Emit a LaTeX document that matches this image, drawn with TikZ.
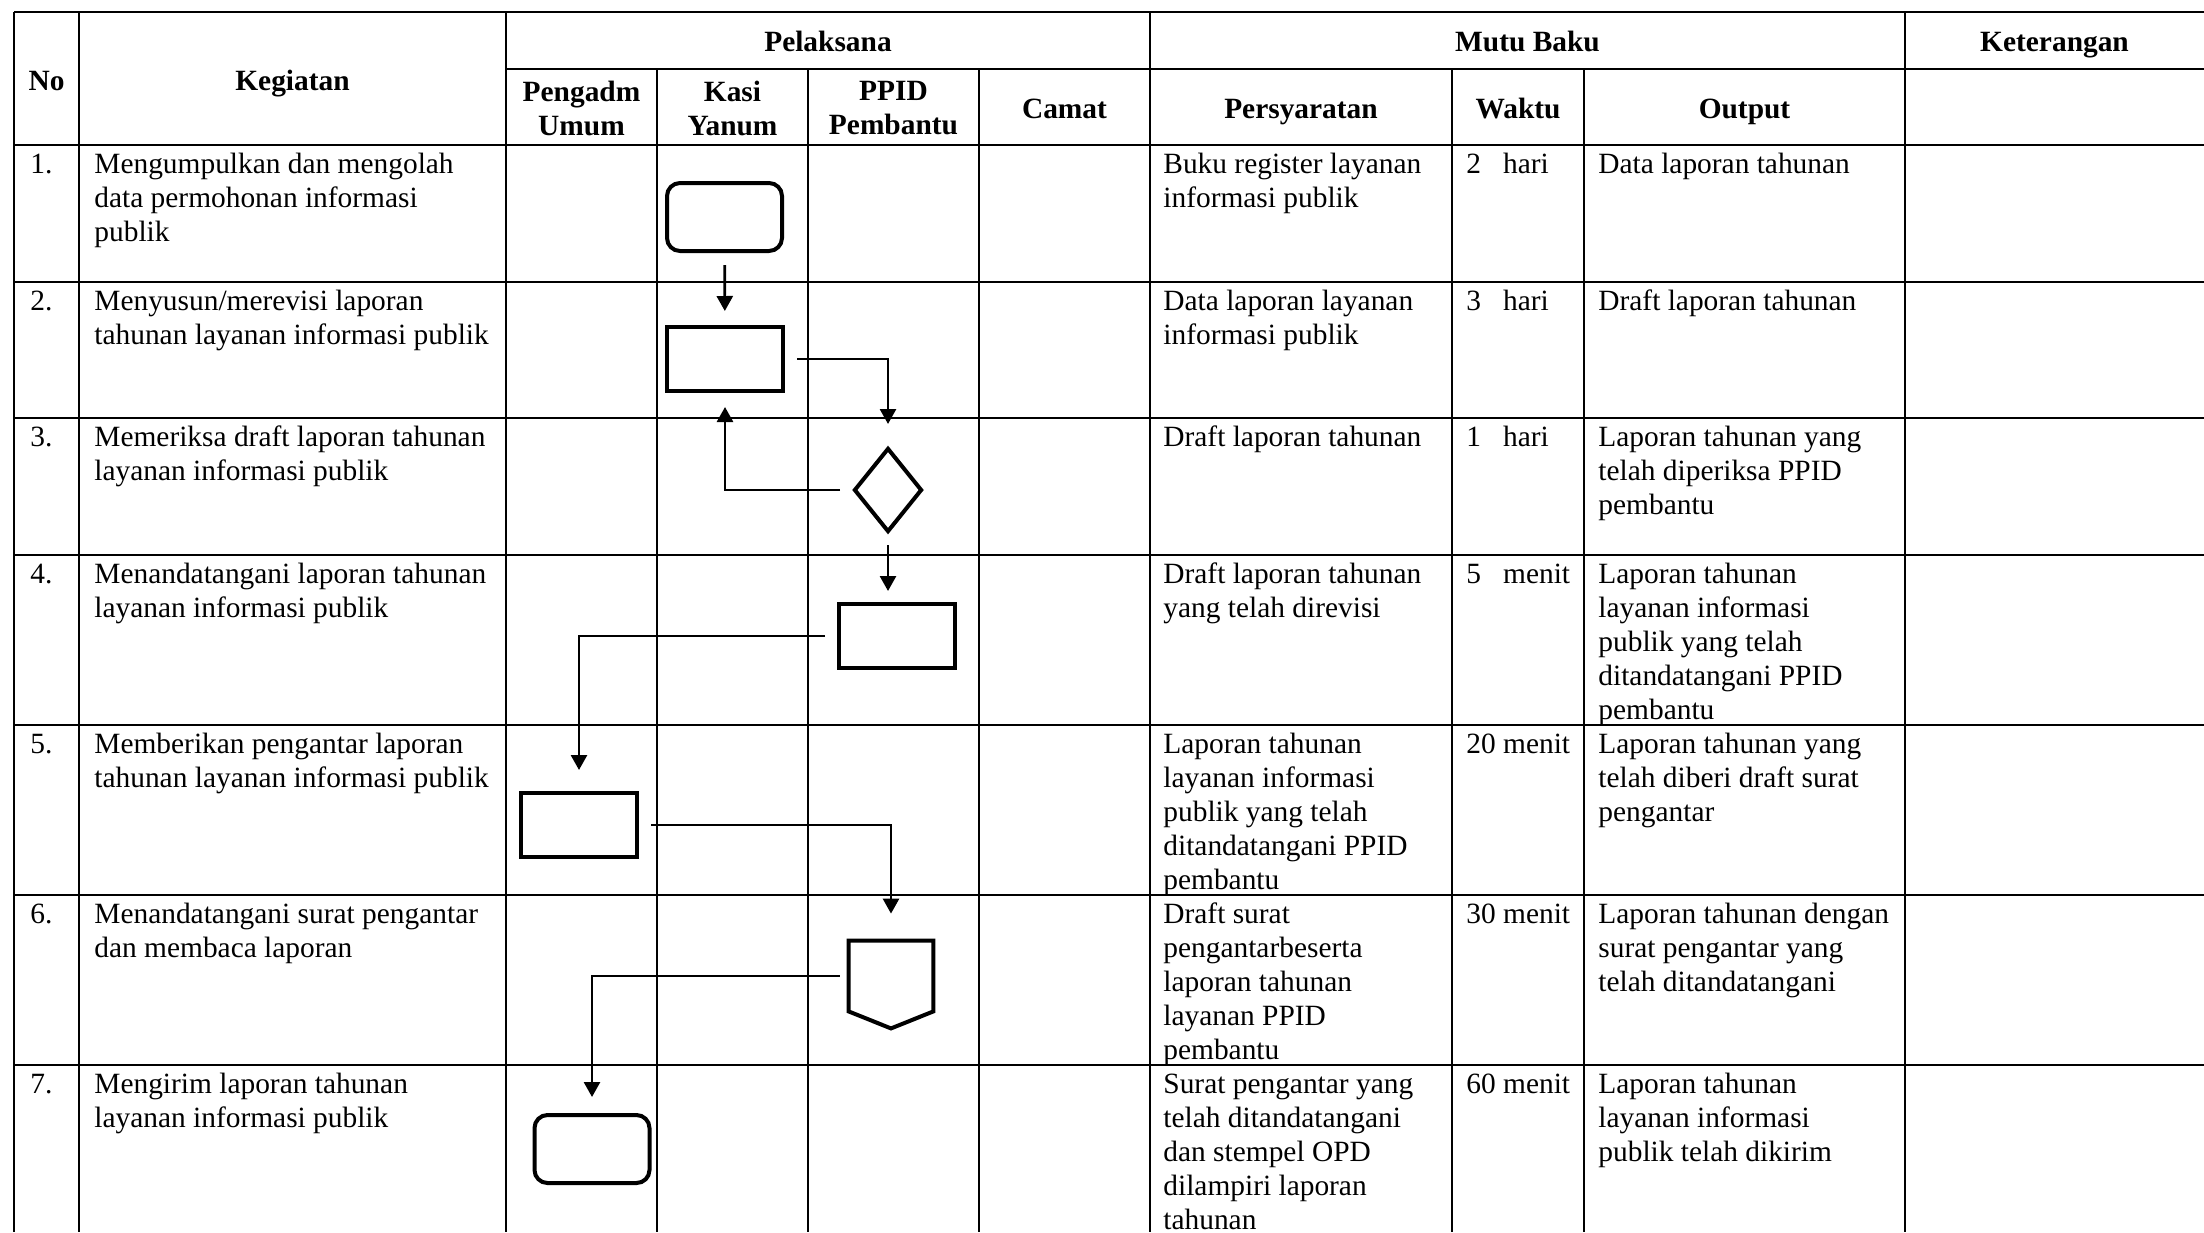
\documentclass[tikz,border=0pt]{standalone}
\usepackage{fontspec}
\setmainfont{Liberation Serif}
\usetikzlibrary{arrows.meta,shapes.geometric,calc}

\begin{document}
\begin{tikzpicture}[x=0.5pt, y=-0.5pt,
	Panah/.style={arrows = -{Triangle[length=7.5pt, width=8pt]}, line width=1.35pt, shorten <=6pt, shorten >=7pt},
	Garis/.style={line width=1pt},
	Proses/.style={draw, line width=2pt, minimum width=58pt, minimum height=32pt, inner sep=0pt},
	Mulai/.style={Proses, rounded corners=6.5pt, minimum width=57.5pt, minimum height=34pt},
	Isi/.style={anchor=base west, text width=280pt, align=flush left, inner sep=0pt, font=\fontsize{14.7}{17}\selectfont},
	Judul/.style={align=center, inner sep=0pt, font=\fontsize{14.7}{17}\selectfont\bfseries},
	Judul1/.style={Judul, anchor=base}]
				\useasboundingbox (0,0) rectangle (2204,1232);
				% garis tabel
				\draw[Garis, line width=1.3pt] (14,12) -- (2204,12);
				\draw[Garis] (506,69) -- (2204,69);
				\draw[Garis] (14,145) -- (2204,145);
				\draw[Garis] (14,282) -- (2204,282);
				\draw[Garis] (14,418) -- (2204,418);
				\draw[Garis] (14,555) -- (2204,555);
				\draw[Garis] (14,725) -- (2204,725);
				\draw[Garis] (14,895) -- (2204,895);
				\draw[Garis] (14,1065) -- (2204,1065);
				\draw[Garis] (14,12) -- (14,1232);
				\draw[Garis] (79,12) -- (79,1232);
				\draw[Garis] (506,12) -- (506,1232);
				\draw[Garis] (1150,12) -- (1150,1232);
				\draw[Garis] (1905,12) -- (1905,1232);
				\draw[Garis] (657,69) -- (657,1232);
				\draw[Garis] (808,69) -- (808,1232);
				\draw[Garis] (979,69) -- (979,1232);
				\draw[Garis] (1452,69) -- (1452,1232);
				\draw[Garis] (1584,69) -- (1584,1232);
				% kepala tabel
				\node (hNo) at (46.5,90) [Judul1] {No};
				\node (hKeg) at (292.5,90) [Judul1] {Kegiatan};
				\node (hPel) at (828,51) [Judul1] {Pelaksana};
				\node (hPeng) at (581.5,108) [Judul] {Pengadm\\Umum};
				\node (hKasi) at (732.5,108) [Judul] {Kasi\\Yanum};
				\node (hPPID) at (893.5,108) [Judul] {PPID\\Pembantu};
				\node (hCamat) at (1064.5,118) [Judul1] {Camat};
				\node (hMutu) at (1527.5,51) [Judul1] {Mutu Baku};
				\node (hSyarat) at (1301,118) [Judul1] {Persyaratan};
				\node (hWaktu) at (1518,118) [Judul1] {Waktu};
				\node (hOut) at (1744.5,118) [Judul1] {Output};
				\node (hKet) at (2054.5,51) [Judul1] {Keterangan};
				% baris 1
				\node (n1) at (30,173) [Isi] {1.};
				\node (k1) at (94,173) [Isi] {Mengumpulkan dan mengolah\\data permohonan informasi\\publik};
				\node (p1) at (1163,173) [Isi] {Buku register layanan\\informasi publik};
				\node (w1) at (1466,173) [Isi] {2\hphantom{0} hari};
				\node (o1) at (1598,173) [Isi] {Data laporan tahunan};
				% baris 2
				\node (n2) at (30,310) [Isi] {2.};
				\node (k2) at (94,310) [Isi] {Menyusun/merevisi laporan\\tahunan layanan informasi publik};
				\node (p2) at (1163,310) [Isi] {Data laporan layanan\\informasi publik};
				\node (w2) at (1466,310) [Isi] {3\hphantom{0} hari};
				\node (o2) at (1598,310) [Isi] {Draft laporan tahunan};
				% baris 3
				\node (n3) at (30,446) [Isi] {3.};
				\node (k3) at (94,446) [Isi] {Memeriksa draft laporan tahunan\\layanan informasi publik};
				\node (p3) at (1163,446) [Isi] {Draft laporan tahunan};
				\node (w3) at (1466,446) [Isi] {1\hphantom{0} hari};
				\node (o3) at (1598,446) [Isi] {Laporan tahunan yang\\telah diperiksa PPID\\pembantu};
				% baris 4
				\node (n4) at (30,583) [Isi] {4.};
				\node (k4) at (94,583) [Isi] {Menandatangani laporan tahunan\\layanan informasi publik};
				\node (p4) at (1163,583) [Isi] {Draft laporan tahunan\\yang telah direvisi};
				\node (w4) at (1466,583) [Isi] {5\hphantom{0} menit};
				\node (o4) at (1598,583) [Isi] {Laporan tahunan\\layanan informasi\\publik yang telah\\ditandatangani PPID\\pembantu};
				% baris 5
				\node (n5) at (30,753) [Isi] {5.};
				\node (k5) at (94,753) [Isi] {Memberikan pengantar laporan\\tahunan layanan informasi publik};
				\node (p5) at (1163,753) [Isi] {Laporan tahunan\\layanan informasi\\publik yang telah\\ditandatangani PPID\\pembantu};
				\node (w5) at (1466,753) [Isi] {20 menit};
				\node (o5) at (1598,753) [Isi] {Laporan tahunan yang\\telah diberi draft surat\\pengantar};
				% baris 6
				\node (n6) at (30,923) [Isi] {6.};
				\node (k6) at (94,923) [Isi] {Menandatangani surat pengantar\\dan membaca laporan};
				\node (p6) at (1163,923) [Isi] {Draft surat\\pengantarbeserta\\laporan tahunan\\layanan PPID\\pembantu};
				\node (w6) at (1466,923) [Isi] {30 menit};
				\node (o6) at (1598,923) [Isi] {Laporan tahunan dengan\\surat pengantar yang\\telah ditandatangani};
				% baris 7
				\node (n7) at (30,1093) [Isi] {7.};
				\node (k7) at (94,1093) [Isi] {Mengirim laporan tahunan\\layanan informasi publik};
				\node (p7) at (1163,1093) [Isi] {Surat pengantar yang\\telah ditandatangani\\dan stempel OPD\\dilampiri laporan\\tahunan};
				\node (w7) at (1466,1093) [Isi] {60 menit};
				\node (o7) at (1598,1093) [Isi] {Laporan tahunan\\layanan informasi\\publik telah dikirim};
				% bagan alir
				\node (s1) at (724.5,217) [Mulai] {};
				\node (r2) at (725,359) [Proses] {};
				\node (d3) at (888,490) [draw, diamond, line width=2pt, minimum width=34pt, minimum height=42pt, inner sep=0pt] {};
				\node (r4) at (897,636) [Proses] {};
				\node (r5) at (579,825) [Proses] {};
				\node (c6) at (891,976) [minimum width=42pt, minimum height=35pt, inner sep=0pt] {};
				\draw[line width=2pt, line join=miter] (c6.north west) -- (c6.north east) -- (c6.south east) -- ($(c6.south)+(0,17)$) -- (c6.south west) -- cycle;
				\node (s7) at (592,1149) [Mulai] {};
				\draw[Panah] (s1) -- (r2);
				\draw[Panah, shorten >=11pt] (r2.east) -| (d3.north);
				\draw[Panah] (d3.west) -| (r2.south);
				\draw[Panah, shorten <=5.5pt, shorten >=5.5pt] (d3.south) -- (d3.south |- r4.north);
				\draw[Panah, shorten >=10.5pt] (r4.west) -| (r5.north);
				\draw[Panah, shorten >=13.5pt] (r5.east) -| (c6.north);
				\draw[Panah, shorten <=4.5pt, shorten >=8pt] (c6.west) -| (s7.north);
			\end{tikzpicture}
\end{document}
